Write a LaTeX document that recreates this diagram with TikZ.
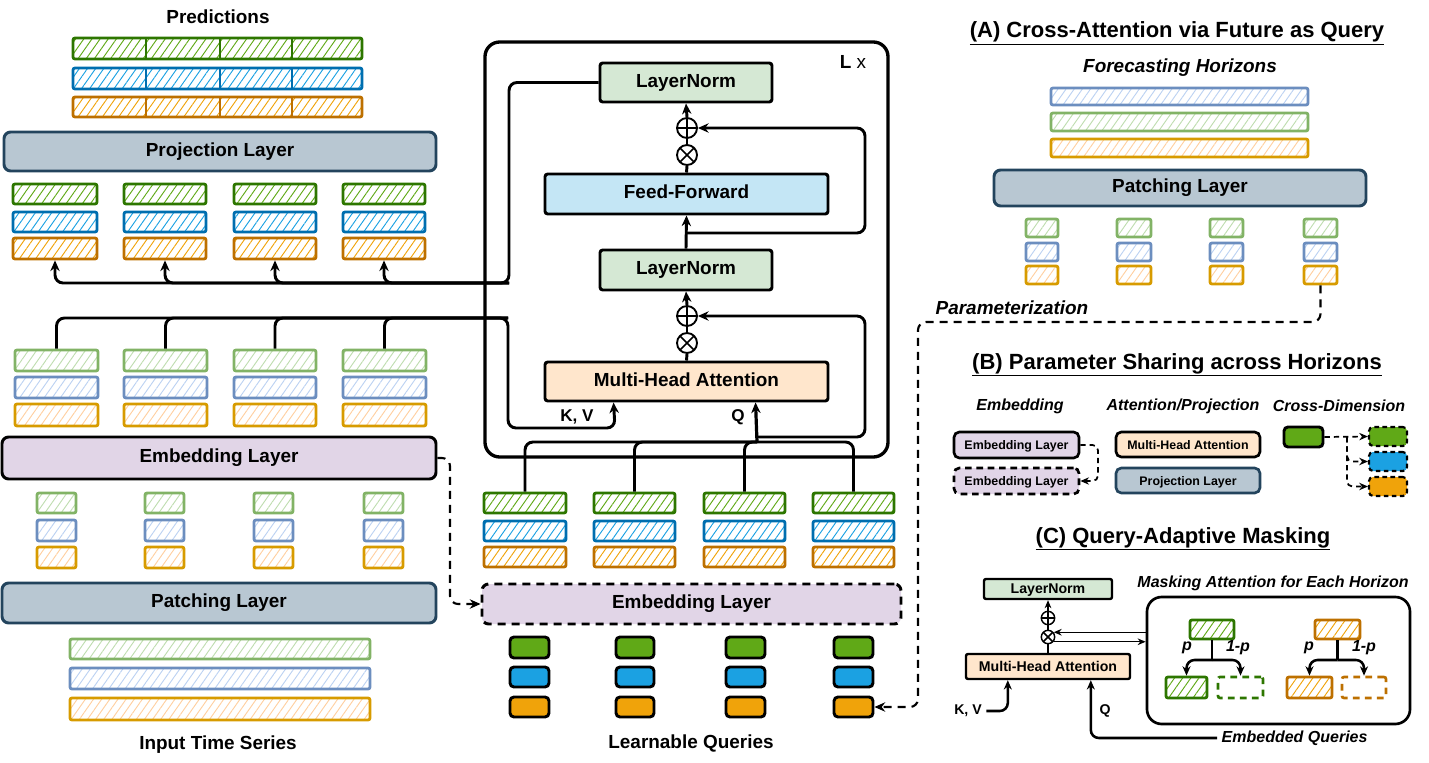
\documentclass[tikz,border=0pt]{standalone}
\usepackage{fontspec}
\setmainfont{Liberation Sans}
\usetikzlibrary{arrows.meta,patterns.meta,calc}
\definecolor{dkG}{HTML}{2D7600}
\definecolor{dkB}{HTML}{006EAF}
\definecolor{dkO}{HTML}{BD7000}
\definecolor{fG}{HTML}{60A917}
\definecolor{fB}{HTML}{1BA1E2}
\definecolor{fO}{HTML}{F0A30A}
\definecolor{ltG}{HTML}{82B366}
\definecolor{ltB}{HTML}{6C8EBF}
\definecolor{ltO}{HTML}{D79B00}
\definecolor{pG}{HTML}{BFDDB0}
\definecolor{pB}{HTML}{BCD2F2}
\definecolor{pO}{HTML}{FFCFA0}
\definecolor{slate}{HTML}{B8C7D2}
\definecolor{slateD}{HTML}{23445D}
\definecolor{lilac}{HTML}{E1D5E7}
\definecolor{mint}{HTML}{D5E8D4}
\definecolor{sky}{HTML}{C4E6F5}
\definecolor{peach}{HTML}{FFE6CC}

% \bx[style]{name}{x1}{y1}{x2}{y2}{text}  (pixel units)
\newcommand\bx[7][]{\node[#1, inner sep=0pt, text height=0.72em, text depth=0.02em,
   minimum width={(#5-(#3))*0.75pt}, minimum height={(#6-(#4))*0.75pt}]
   (#2) at ({(#3+#5)/2},{(#4+#6)/2}) {#7};}

\tikzset{
  every node/.style={font=\bfseries},
  tA/.style={font=\fontsize{16.5}{18}\selectfont\bfseries},
  tB/.style={font=\fontsize{14.2}{16}\selectfont\bfseries},
  tBi/.style={font=\fontsize{14.2}{16}\selectfont\bfseries\itshape},
  tK/.style={font=\fontsize{12.8}{14}\selectfont\bfseries},
  tCi/.style={font=\fontsize{12}{14}\selectfont\bfseries\itshape},
  tD/.style={font=\fontsize{10.6}{12}\selectfont\bfseries},
  tE/.style={font=\fontsize{9.3}{11}\selectfont\bfseries},
  hatch/.style 2 args={draw=#1, line width=2.1pt, rounded corners=1.5pt,
     pattern={Lines[angle=55,distance=5pt,line width=0.7pt]}, pattern color=#2},
  layer/.style={draw=slateD, fill=slate, line width=2.2pt, rounded corners=5pt, tB},
  emb/.style={draw=black, fill=lilac, line width=2.2pt, rounded corners=5pt, tB},
  embd/.style={emb, dash pattern=on 6pt off 4.5pt},
  lnbox/.style={draw=black, fill=mint, line width=2.2pt, rounded corners=2pt, tB},
  ffbox/.style={draw=black, fill=sky, line width=2.2pt, rounded corners=2pt, tB},
  mhabox/.style={draw=black, fill=peach, line width=2.2pt, rounded corners=2pt, tB},
  lq/.style={draw=black, line width=2.2pt, rounded corners=3pt, fill=#1},
  opl/.style={circle, draw, line width=1.4pt, minimum size=#1, inner sep=0pt,
     path picture={\draw[line width=1.2pt] (path picture bounding box.north) -- (path picture bounding box.south)
       (path picture bounding box.west) -- (path picture bounding box.east);}},
  otm/.style={circle, draw, line width=1.4pt, minimum size=#1, inner sep=0pt,
     path picture={\draw[line width=1.2pt] (path picture bounding box.north west) -- (path picture bounding box.south east)
       (path picture bounding box.north east) -- (path picture bounding box.south west);}},
  conn/.style={line width=2.2pt, rounded corners=6pt},
  arr/.style={conn, -{Stealth[length=8pt,width=7pt]}},
  darr/.style={line width=1.6pt, rounded corners=6pt, dash pattern=on 6pt off 4.5pt, -{Stealth[length=8pt,width=7pt]}},
  darrS/.style={line width=1.3pt, rounded corners=4pt, dash pattern=on 4pt off 3pt, -{Stealth[length=6.5pt,width=5.5pt]}},
  arrT/.style={line width=1.1pt, -{Stealth[length=6pt,width=5pt]}},
  arrM/.style={line width=1.9pt, rounded corners=6pt, -{Stealth[length=7pt,width=6pt]}},
  dbox/.style={draw=#1, line width=2pt, dash pattern=on 5pt off 4pt, rounded corners=1.5pt},
}

\begin{document}
\begin{tikzpicture}[x=0.75pt, y=-0.75pt]
\useasboundingbox (0,0) rectangle (1429,763);

% ================= LEFT =================
\node[tB] (predT) at (218,17) {Predictions};
\bx[hatch={dkG}{fG}]{predG}{73}{38}{362}{59}{}
\bx[hatch={dkB}{fB}]{predB}{73}{68}{362}{89}{}
\bx[hatch={dkO}{fO}]{predO}{73}{97}{362}{117}{}
\foreach \xx in {146,220,292}{
  \draw[dkG, line width=2pt] (\xx,38) -- (\xx,59);
  \draw[dkB, line width=2pt] (\xx,68) -- (\xx,89);
  \draw[dkO, line width=2pt] (\xx,97) -- (\xx,117);
}
\bx[layer]{proj}{4}{132}{436}{171}{Projection Layer}

\foreach \i/\a/\b in {1/13/97,2/124/206,3/234/316,4/343/425}{
  \bx[hatch={dkG}{fG}]{oG\i}{\a}{184}{\b}{204}{}
  \bx[hatch={dkB}{fB}]{oB\i}{\a}{212}{\b}{232}{}
  \bx[hatch={dkO}{fO}]{oO\i}{\a}{238}{\b}{259}{}
}

\foreach \i/\a/\b in {1/15/98,2/124/207,3/234/316,4/343/426}{
  \bx[hatch={ltG}{pG}]{eG\i}{\a}{350}{\b}{371}{}
  \bx[hatch={ltB}{pB}]{eB\i}{\a}{377}{\b}{398}{}
  \bx[hatch={ltO}{pO}]{eO\i}{\a}{404}{\b}{426}{}
}
\bx[emb]{embL}{2}{437}{436}{479}{Embedding Layer}

\foreach \i/\a in {1/37,2/145,3/254,4/364}{
  \bx[hatch={ltG}{pG}]{sG\i}{\a}{493}{\a+39}{513}{}
  \bx[hatch={ltB}{pB}]{sB\i}{\a}{520}{\a+39}{541}{}
  \bx[hatch={ltO}{pO}]{sO\i}{\a}{547}{\a+39}{568}{}
}
\bx[layer]{patL}{2}{583}{436}{623}{Patching Layer}
\bx[hatch={ltG}{pG}]{inG}{70}{639}{370}{659}{}
\bx[hatch={ltB}{pB}]{inB}{70}{668}{370}{689}{}
\bx[hatch={ltO}{pO}]{inO}{70}{698}{370}{720}{}
\node[tB] (inT) at (218,745) {Input Time Series};

% ================= CENTER =================
\bx[draw=black, line width=2.5pt, rounded corners=11pt]{blk}{485}{42}{888}{457}{}
\node[font=\fontsize{14.2}{16}\selectfont] (Lx) at (853,62) {\textbf{L} x};

\bx[lnbox]{lnT}{600}{63}{772}{102}{LayerNorm}
\node[opl=15pt] (p1) at (687,128) {};
\node[otm=15pt] (m1) at (687,155) {};
\bx[ffbox]{ff}{545}{174}{828}{214}{Feed-Forward}
\bx[lnbox]{lnM}{600}{250}{772}{290}{LayerNorm}
\node[opl=15pt] (p2) at (687,316) {};
\node[otm=15pt] (m2) at (687,343) {};
\bx[mhabox]{mha}{545}{362}{828}{401}{Multi-Head Attention}
\node[tK] (kvT) at (577,417) {K, V};
\node[tK] (qT) at (738,417) {Q};

\draw[arr] (lnM.north) -- (ff.south);
\draw[conn] (ff.north) -- (m1.south);
\draw[conn] (m1.north) -- (p1.south);
\draw[arr] (p1.north) -- (lnT.south);
\draw[conn] (mha.north) -- (m2.south);
\draw[conn] (m2.north) -- (p2.south);
\draw[arr] (p2.north) -- (lnM.south);
\coordinate (r1) at (687,233);
\draw[arr] (r1) -| (865,128) -- (p1.east);

% outputs to projection
\coordinate (obus) at (509,283);
\draw[arr] (lnT.west) -| (obus) -| (oO1.south);
\foreach \i in {2,3,4} \draw[arr] (obus) -| (oO\i.south);

% embedded inputs to K,V
\coordinate (ebus) at (508,318);
\coordinate (kvIn) at ($(mha.south west)+(70,0)$);
\draw[arr] (eG1.north) |- (ebus) |- (615,428) -- (kvIn);
\foreach \i in {2,3,4} \draw[conn] (eG\i.north) |- (ebus);

% queries
\foreach \i/\a/\b in {1/484/566,2/594/675,3/704/785,4/813/894}{
  \bx[hatch={dkG}{fG}]{qG\i}{\a}{493}{\b}{513}{}
  \bx[hatch={dkB}{fB}]{qB\i}{\a}{521}{\b}{541}{}
  \bx[hatch={dkO}{fO}]{qO\i}{\a}{547}{\b}{567}{}
}
\coordinate (qbus) at (757,442);
\coordinate (qIn) at ($(mha.south west)+(212,0)$);
\foreach \i in {1,2,3,4} \draw[conn] (qG\i.north) |- (qbus);
\draw[arr, line width=2.4pt] (qbus) -- (qIn);
\coordinate (r2) at (757,437);
\draw[arr] (r2) -| (865,316) -- (p2.east);

\bx[embd]{embR}{482}{584}{901}{624}{Embedding Layer}
\foreach \i/\a/\b in {1/510/549,2/616/654,3/726/765,4/834/873}{
  \bx[lq=fG]{lG\i}{\a}{637}{\b}{658}{}
  \bx[lq=fB]{lB\i}{\a}{667}{\b}{687}{}
  \bx[lq=fO]{lO\i}{\a}{697}{\b}{717}{}
}
\node[tB] (lqT) at (691,743) {Learnable Queries};

\draw[darr] (embL.east) -| (450,604) -- (embR.west);

% ================= (A) =================
\node[tA, anchor=base] (tiA) at (1177,38) {\underline{(A) Cross-Attention via Future as Query}};
\node[tBi] (fhT) at (1180,68) {Forecasting Horizons};
\bx[hatch={ltB}{pB}]{hzB}{1051}{88}{1308}{105}{}
\bx[hatch={ltG}{pG}]{hzG}{1051}{113}{1308}{131}{}
\bx[hatch={ltO}{pO}]{hzO}{1051}{139}{1308}{157}{}
\bx[layer]{patA}{994}{170}{1366}{206}{Patching Layer}
\foreach \i/\a/\b in {1/1026/1058,2/1117/1151,3/1210/1243,4/1304/1337}{
  \bx[hatch={ltG}{pG}]{aG\i}{\a}{219}{\b}{237}{}
  \bx[hatch={ltB}{pB}]{aB\i}{\a}{243}{\b}{261}{}
  \bx[hatch={ltO}{pO}]{aO\i}{\a}{266}{\b}{284}{}
}
\node[tBi, anchor=west] (parT) at (931,308) {Parameterization};
\coordinate (pcorner) at (918,322);
\draw[darr] (aO4.south) |- (pcorner) |- (lO4.east);

% ================= (B) =================
\node[tA, anchor=base] (tiB) at (1177,369) {\underline{(B) Parameter Sharing across Horizons}};
\node[tCi] (bs1) at (1020,406) {Embedding};
\node[tCi] (bs2) at (1183,406) {Attention/Projection};
\node[tCi] (bs3) at (1339,406) {Cross-Dimension};
\bx[draw=black, fill=lilac, line width=2pt, rounded corners=4pt, tE]{eS1}{954}{432}{1079}{458}{Embedding Layer}
\bx[draw=black, fill=lilac, line width=2pt, rounded corners=4pt, dash pattern=on 5pt off 3.5pt, tE]{eS2}{954}{468}{1079}{494}{Embedding Layer}
\draw[darrS] (eS1.east) -| (1098,481) -- (eS2.east);
\bx[draw=black, fill=peach, line width=2pt, rounded corners=4pt, tE]{mhaB}{1116}{432}{1260}{457}{Multi-Head Attention}
\bx[draw=slateD, fill=slate, line width=2pt, rounded corners=4pt, tE]{projB}{1116}{468}{1260}{493}{Projection Layer}
\bx[lq=fG]{cdS}{1284}{427}{1323}{447}{}
\bx[lq=fG, line width=1.6pt, dash pattern=on 3.5pt off 2.5pt]{cdG}{1369}{427}{1407}{446}{}
\bx[lq=fB, line width=1.6pt, dash pattern=on 3.5pt off 2.5pt]{cdB}{1369}{452}{1407}{471}{}
\bx[lq=fO, line width=1.6pt, dash pattern=on 3.5pt off 2.5pt]{cdO}{1369}{477}{1407}{496}{}
\coordinate (cdj) at (1347,437);
\draw[darrS] (cdS.east) -- (cdG.west);
\draw[darrS] (cdj) |- (cdB.west);
\draw[darrS] (cdj) |- (cdO.west);

% ================= (C) =================
\node[tA, anchor=base] (tiC) at (1183,543) {\underline{(C) Query-Adaptive Masking}};
\bx[draw=black, fill=mint, line width=1.8pt, rounded corners=1.5pt, tD]{lnC}{984}{579}{1112}{599}{LayerNorm}
\node[opl=10pt, line width=1.1pt] (pC) at (1048,618) {};
\node[otm=10pt, line width=1.1pt] (mC) at (1048,637) {};
\bx[draw=black, fill=peach, line width=1.8pt, rounded corners=1.5pt, tD]{mhaC}{966}{654}{1130}{679}{Multi-Head Attention}
\draw[arrT] (pC.north) -- (lnC.south);
\draw[line width=1.1pt] (mC.north) -- (pC.south);
\draw[line width=1.1pt] (mhaC.north) -- (mC.south);
\node[tD] (kvC) at (968,711) {K, V};
\node[tD] (qC) at (1105,711) {Q};
\draw[arrM] (kvC.east) -| ($(mhaC.south west)+(43,0)$);
\node[tCi, anchor=west] (eqT) at (1217,738) {Embedded Queries};
\draw[arrM] (eqT.west) -| ($(mhaC.south west)+(126,0)$);
\node[tCi] (maT) at (1273,583) {Masking Attention for Each Horizon};
\bx[draw=black, line width=2pt, rounded corners=11pt]{mbox}{1147}{597}{1410}{724}{}
\draw[arrT] (mC.40 -| mbox.west) -- (mC.40);
\draw[arrT] (mC.-40) -- (mC.-40 -| mbox.west);

\bx[hatch={dkG}{fG}]{mkG}{1190}{620}{1234}{639}{}
\bx[hatch={dkO}{fO}]{mkO}{1315}{620}{1360}{639}{}
\bx[hatch={dkG}{fG}]{mkG1}{1166}{677}{1207}{698}{}
\bx[dbox=dkG]{mkG2}{1218}{677}{1263}{698}{}
\bx[hatch={dkO}{fO}]{mkO1}{1287}{677}{1332}{698}{}
\bx[dbox=dkO]{mkO2}{1342}{677}{1386}{698}{}
\coordinate (gj) at (1212,660);
\coordinate (oj) at (1337.5,660);
\draw[line width=1.9pt] (mkG.south) -- (gj);
\draw[arrM] (gj) -| (mkG1.north);
\draw[arrM] (gj) -| (mkG2.north);
\draw[line width=1.9pt] (mkO.south) -- (oj);
\draw[arrM] (oj) -| (mkO1.north);
\draw[arrM] (oj) -| (mkO2.north);
\node[tCi] (pg) at (1187,648) {p};
\node[tCi] (qg) at (1238,648) {1-p};
\node[tCi] (po) at (1309,648) {p};
\node[tCi] (qo) at (1364,648) {1-p};
\end{tikzpicture}
\end{document}
